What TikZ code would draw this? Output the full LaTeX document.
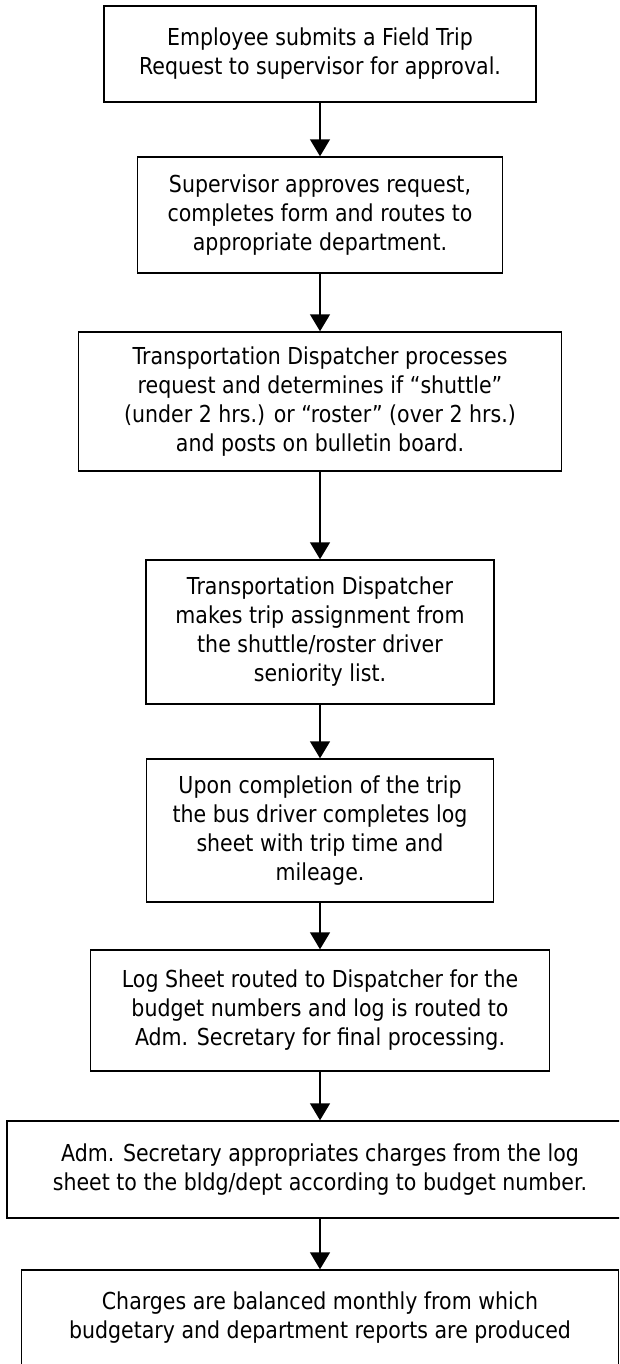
\documentclass[tikz,border=0pt]{standalone}
\usepackage{fontspec}
\setmainfont[FakeStretch=0.88]{DejaVu Sans}
\usepackage{tikz}
\usetikzlibrary{arrows.meta}
\tikzset{
    stepbox/.style={draw, line width=1.1pt, align=center, inner sep=0pt, font=\fontsize{17.5}{21.75}\selectfont},
    flowarrow/.style={-{Triangle[width=15pt, length=12.75pt]}, line width=1.1pt}
}

\begin{document}
\begin{tikzpicture}[x=0.75pt, y=-0.75pt]
    \useasboundingbox (0,0) rectangle (619,1364);
    \clip (0,0) rectangle (619,1364);
    \node[stepbox, minimum width=324pt, minimum height=72pt] (request) at (320,54)
        {Employee submits a Field Trip\\Request to supervisor for approval.};
    \node[stepbox, minimum width=273.75pt, minimum height=87pt] (approve) at (320,215)
        {Supervisor approves request,\\completes form and routes to\\appropriate department.};
    \node[stepbox, minimum width=362.25pt, minimum height=104.25pt] (process) at (320,401.5)
        {Transportation Dispatcher processes\\request and determines if “shuttle”\\(under 2 hrs.) or “roster” (over 2 hrs.)\\and posts on bulletin board.};
    \node[stepbox, minimum width=261pt, minimum height=108pt] (assign) at (320,632)
        {Transportation Dispatcher\\makes trip assignment from\\the shuttle/roster driver\\seniority list.};
    \node[stepbox, minimum width=260.25pt, minimum height=107.25pt] (trip) at (320,830.5)
        {Upon completion of the trip\\the bus driver completes log\\sheet with trip time and\\mileage.};
    \node[stepbox, minimum width=344.25pt, minimum height=90.75pt] (logsheet) at (320,1010.5)
        {Log Sheet routed to Dispatcher for the\\budget numbers and log is routed to\\Adm. Secretary for final processing.};
    \node[stepbox, minimum width=469.5pt, minimum height=72.75pt] (charges) at (320,1169.5)
        {Adm. Secretary appropriates charges from the log\\sheet to the bldg/dept according to budget number.};
    \node[stepbox, minimum width=447.75pt, minimum height=72pt] (reports) at (320,1318)
        {Charges are balanced monthly from which\\budgetary and department reports are produced};
    \draw[flowarrow] (request) -- (approve);
    \draw[flowarrow] (approve) -- (process);
    \draw[flowarrow] (process) -- (assign);
    \draw[flowarrow] (assign) -- (trip);
    \draw[flowarrow] (trip) -- (logsheet);
    \draw[flowarrow] (logsheet) -- (charges);
    \draw[flowarrow] (charges) -- (reports);
\end{tikzpicture}
\end{document}
